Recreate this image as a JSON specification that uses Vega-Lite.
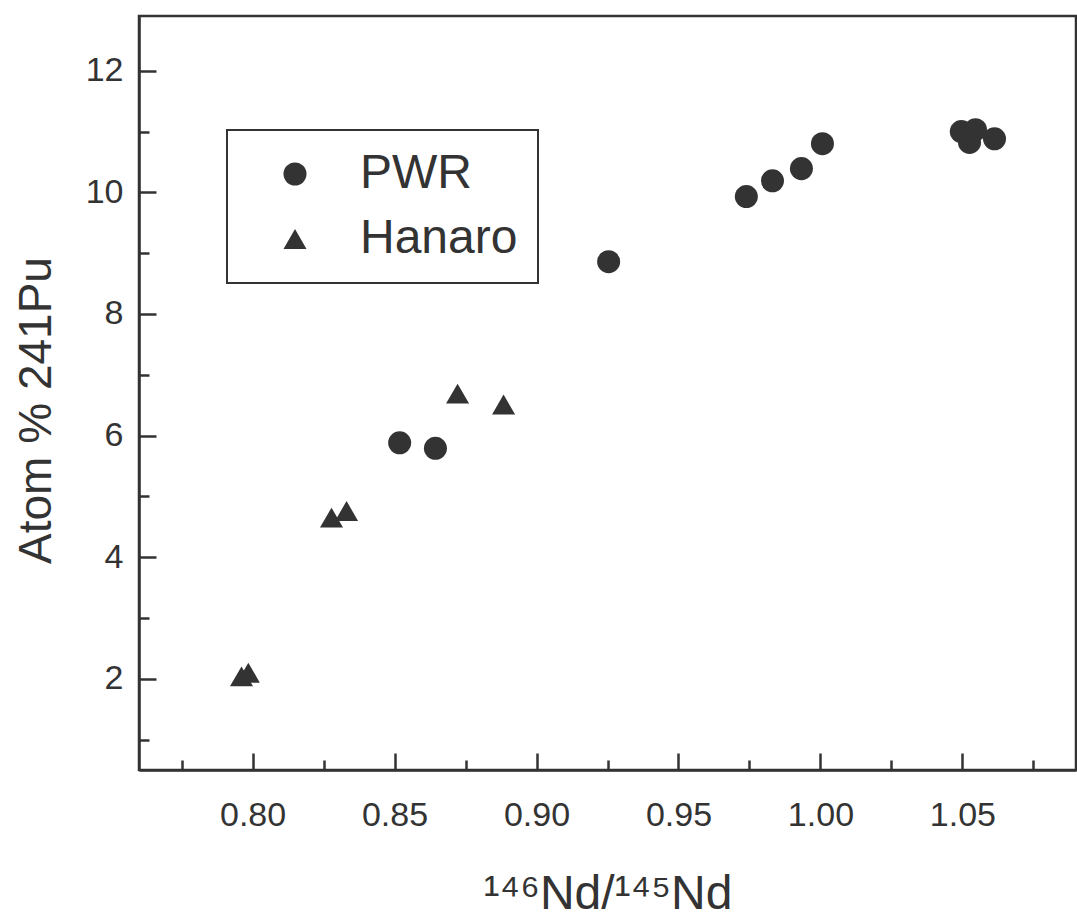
{
  "$schema": "https://vega.github.io/schema/vega-lite/v6.json",
  "autosize": {"type": "none"},
  "width": 937,
  "height": 754,
  "padding": {"left": 139, "top": 16, "right": 1, "bottom": 148},
  "background": "white",
  "config": {
    "view": {"stroke": "#333", "strokeWidth": 2.5},
    "font": "Liberation Sans",
    "legend": {"strokeWidth": 2}
  },
  "data": {
    "values": [
      {"ratio": 0.8518, "pu241": 5.88, "reactor": "PWR"},
      {"ratio": 0.8644, "pu241": 5.79, "reactor": "PWR"},
      {"ratio": 0.9254, "pu241": 8.86, "reactor": "PWR"},
      {"ratio": 0.9739, "pu241": 9.93, "reactor": "PWR"},
      {"ratio": 0.9831, "pu241": 10.19, "reactor": "PWR"},
      {"ratio": 0.9933, "pu241": 10.39, "reactor": "PWR"},
      {"ratio": 1.0007, "pu241": 10.8, "reactor": "PWR"},
      {"ratio": 1.0496, "pu241": 11.0, "reactor": "PWR"},
      {"ratio": 1.0546, "pu241": 11.03, "reactor": "PWR"},
      {"ratio": 1.0525, "pu241": 10.82, "reactor": "PWR"},
      {"ratio": 1.0613, "pu241": 10.88, "reactor": "PWR"},
      {"ratio": 0.8722, "pu241": 6.69, "reactor": "Hanaro"},
      {"ratio": 0.8884, "pu241": 6.51, "reactor": "Hanaro"},
      {"ratio": 0.8278, "pu241": 4.65, "reactor": "Hanaro"},
      {"ratio": 0.8331, "pu241": 4.76, "reactor": "Hanaro"},
      {"ratio": 0.7961, "pu241": 2.04, "reactor": "Hanaro"},
      {"ratio": 0.7985, "pu241": 2.1, "reactor": "Hanaro"}
    ]
  },
  "mark": {"type": "point", "filled": true, "color": "#333", "opacity": 1, "size": 530},
  "encoding": {
    "x": {
      "field": "ratio",
      "type": "quantitative",
      "scale": {"domain": [0.76, 1.09], "nice": false, "zero": false},
      "axis": {
        "values": [0.775, 0.8, 0.825, 0.85, 0.875, 0.9, 0.925, 0.95, 0.975, 1.0, 1.025, 1.05, 1.075],
        "format": ".2f",
        "labelExpr": "abs(datum.value*20 - round(datum.value*20)) < 0.01 ? datum.label : ''",
        "tickSize": {"condition": {"test": "abs(datum.value*20 - round(datum.value*20)) < 0.01", "value": -17}, "value": -10},
        "labelFontSize": 34,
        "labelColor": "#333",
        "labelPadding": 45,
        "labelFlush": false,
        "labelOverlap": false,
        "domainColor": "#333",
        "domainWidth": 2.5,
        "tickColor": "#333",
        "tickWidth": 2.5,
        "grid": false,
        "title": "¹⁴⁶Nd/¹⁴⁵Nd",
        "titleFontSize": 48,
        "titleFontWeight": "normal",
        "titleColor": "#333",
        "titleY": 138,
        "titleBaseline": "alphabetic"
      }
    },
    "y": {
      "field": "pu241",
      "type": "quantitative",
      "scale": {"domain": [0.5, 12.9], "nice": false, "zero": false},
      "axis": {
        "values": [1, 2, 3, 4, 5, 6, 7, 8, 9, 10, 11, 12],
        "labelExpr": "datum.value % 2 == 0 ? datum.label : ''",
        "tickSize": {"condition": {"test": "datum.value % 2 == 0", "value": -17}, "value": -10},
        "labelFontSize": 34,
        "labelColor": "#333",
        "labelPadding": 33,
        "labelFlush": false,
        "labelOverlap": false,
        "domainColor": "#333",
        "domainWidth": 2.5,
        "tickColor": "#333",
        "tickWidth": 2.5,
        "grid": false,
        "title": "Atom % 241Pu",
        "titleFontSize": 46,
        "titleFontWeight": "normal",
        "titleColor": "#333",
        "titleX": -89,
        "titleY": 394,
        "titleAngle": -90,
        "titleAlign": "center",
        "titleBaseline": "alphabetic"
      }
    },
    "shape": {
      "field": "reactor",
      "type": "nominal",
      "scale": {"domain": ["PWR", "Hanaro"], "range": ["circle", "triangle-up"]},
      "legend": {
        "orient": "none",
        "legendX": 88,
        "legendY": 114,
        "title": null,
        "labelFontSize": 48,
        "labelColor": "#333",
        "symbolSize": 530,
        "symbolFillColor": "#333",
        "symbolStrokeWidth": 0,
        "strokeColor": "#333",
        "padding": 20,
        "rowPadding": 17,
        "symbolOffset": 24,
        "labelOffset": 41
      }
    }
  }
}
